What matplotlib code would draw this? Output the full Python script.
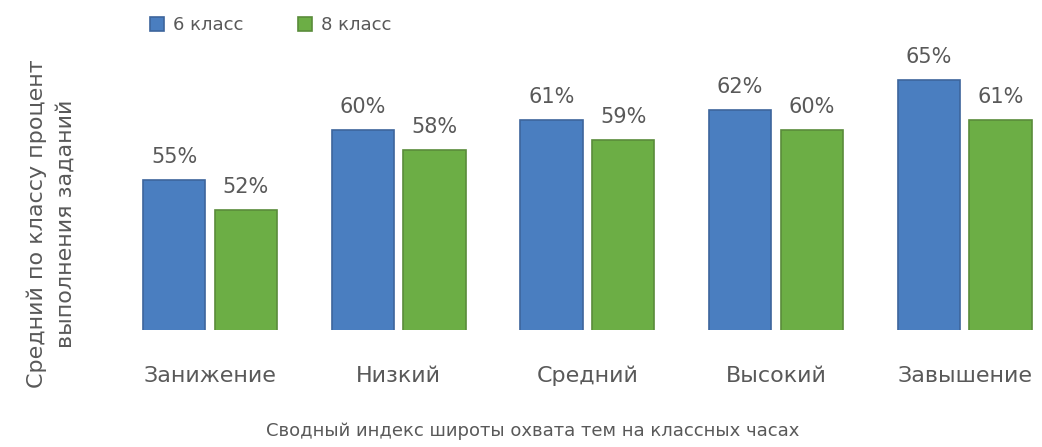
import numpy as np
import matplotlib as mpl
mpl.rcParams['font.family'] = ['DejaVu Sans']
from matplotlib import pyplot as plt

categories = ["Занижение", "Низкий", "Средний", "Высокий", "Завышение"]
grade6 = [0.55, 0.60, 0.61, 0.62, 0.65]
grade8 = [0.52, 0.58, 0.59, 0.60, 0.61]
series_names = ["6 класс", "8 класс"]

txt = '#595959'
fig = plt.figure(figsize=(10.42, 4.47), dpi=100)
ax = fig.add_axes([0.111, 0.262, 0.889, 0.671])

x = np.arange(len(categories))
w = 0.33
b1 = ax.bar(x - 0.19, grade6, w, color='#4a7ec0', edgecolor='#3d659c', lw=1.2, label=series_names[0])
b2 = ax.bar(x + 0.19, grade8, w, color='#6cae45', edgecolor='#5a8c3b', lw=1.2, label=series_names[1])

for bars in (b1, b2):
    for r in bars:
        h = r.get_height()
        ax.annotate("{:.0%}".format(h), (r.get_x() + r.get_width() / 2, h),
                    xytext=(0, 9), textcoords='offset points',
                    ha='center', va='bottom', fontsize=15, color=txt)

ax.set_xlim(-0.5, 4.41)
ax.set_ylim(0.40, 0.70)
ax.set_yticks([])
ax.set_xticks(x)
ax.set_xticklabels(categories, fontsize=16, color=txt)
ax.tick_params(axis='x', length=0, pad=26)
for s in ['top', 'right', 'left', 'bottom']:
    ax.spines[s].set_visible(False)

fig.text(0.511, 0.035, "Сводный индекс широты охвата тем на классных часах",
         ha='center', va='center', fontsize=13, color=txt)
fig.text(0.049, 0.5, "Средний по классу процент\nвыполнения заданий",
         ha='center', va='center', rotation=90, fontsize=16, color=txt,
         linespacing=1.6)

fig.legend(loc='upper left', bbox_to_anchor=(0.128, 1.0), ncol=2, frameon=False,
           fontsize=13, handlelength=0.8, handleheight=0.8, columnspacing=3.0,
           handletextpad=0.5, labelcolor=txt)

plt.savefig('out.png', dpi=100)
